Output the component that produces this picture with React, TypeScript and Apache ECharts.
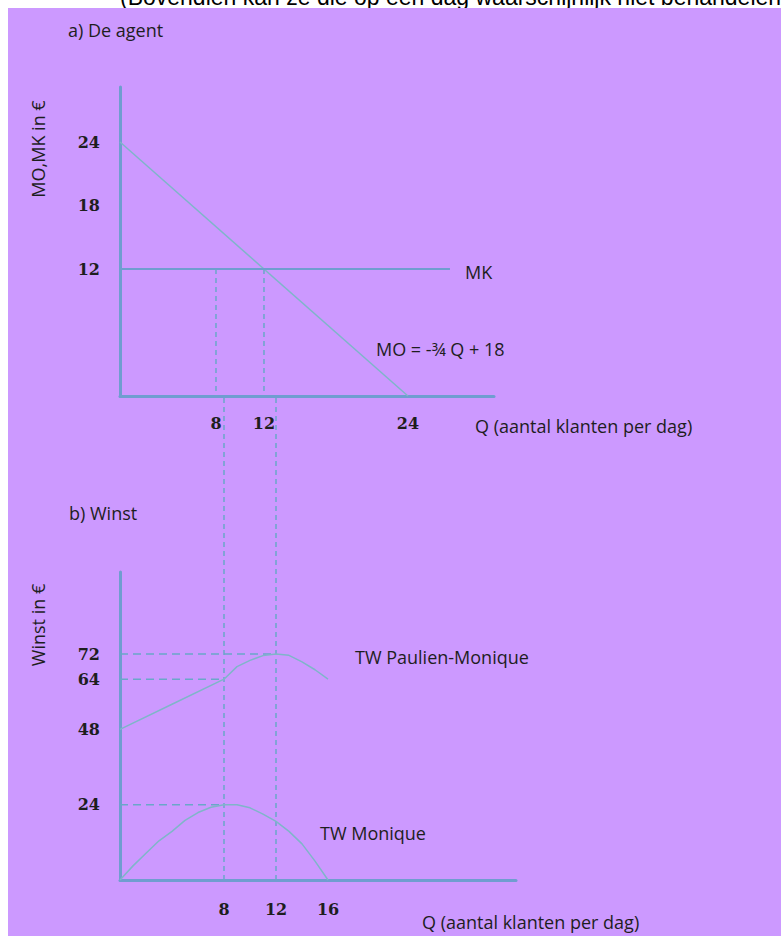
import { useEffect, useRef } from 'react';
import * as echarts from 'echarts';

// ---- tick labels ----
const upperXTicks = [8, 12, 24];
const upperYTicks = [12, 18, 24];
const lowerXTicks = [8, 12, 16];
const lowerYTicks = [24, 48, 64, 72];

// ---- a) De agent ----
const moCurve = [[0, 24], [24, 0]];
const mkCurve = [[0, 12], [27.5, 12]];
const mkLevel = 12;
const optimumQs = [8, 12];

// ---- b) Winst ----
const twPaulienMonique = [
  [0, 48], [4, 56], [8, 64], [9, 68], [10, 70], [11, 71.5], [12, 72],
  [13, 71.6], [14, 69.5], [15, 67], [16, 64],
];
const twMonique = [
  [0, 0], [1, 4.5], [2, 8.5], [3, 12.5], [4, 15.5], [5, 19], [6, 21.5], [7, 23.2],
  [8, 24], [9, 24], [10, 23], [11, 21], [12, 18.7], [13, 15.5], [14, 11.5], [15, 6], [16, 0],
];
// [winst level, Q where the guide ends]
const guideLevels = [[72, 12], [64, 8], [24, 8]];

const headerText = '(Bovendien kan ze die op een dag waarschijnlijk niet behandelen.';

// ---- layout / style ----
const PURPLE = '#CC99FF';
const AXIS = '#6f9dd0';
const CURVE = '#7fb5c9';
const DASH = '#6aa7c9';
const TXT = '#1e1e1e';
const SANS = '"Open Sans", Lato, sans-serif';
const SERIF = '"DejaVu Serif", "Liberation Serif", serif';

const U = { left: 120, top: 87, right: 494, bottom: 396 };
const L = { left: 120, top: 572, right: 516, bottom: 880 };
const U_XMAX = 31.17;
const U_YMAX = 29.2;
const L_XMAX = 30.46;
const L_YMAX = 98.15;
const GAP_TOP = (L_YMAX * (L.bottom - U.bottom)) / (L.bottom - L.top);

function tickFormatter(list: number[]) {
  return (v: number) => (list.indexOf(v) >= 0 ? String(v) : '');
}

function axisBase(ticks: number[], max: number, interval: number, margin: number) {
  return {
    type: 'value' as const,
    min: 0,
    max,
    interval,
    axisLine: { show: true, onZero: false, lineStyle: { color: AXIS, width: 3 } },
    axisTick: { show: false },
    splitLine: { show: false },
    axisLabel: {
      formatter: tickFormatter(ticks),
      margin,
      color: TXT,
      fontFamily: SERIF,
      fontWeight: 'bold' as const,
      fontSize: 16,
      showMaxLabel: false,
    },
  };
}

function line(data: number[][], xi: number, color: string, width: number, dash?: number[], clip = true) {
  return {
    type: 'line',
    xAxisIndex: xi,
    yAxisIndex: xi,
    data,
    symbol: 'none',
    silent: true,
    clip,
    lineStyle: { color, width, type: dash ? dash : 'solid' },
  };
}

function label(text: string, x: number, y: number, rotate = false) {
  return {
    type: 'text',
    x,
    y,
    rotation: rotate ? Math.PI / 2 : 0,
    z: 10,
    style: {
      text,
      fill: TXT,
      font: `18px ${SANS}`,
      align: rotate ? 'center' : 'left',
      verticalAlign: 'middle',
    },
  };
}

export default function App() {
  const ref = useRef<HTMLDivElement>(null);
  useEffect(() => {
    if (!ref.current) return;
    const chart = echarts.init(ref.current, undefined, { renderer: 'svg' });
    const series: any[] = [
      line(moCurve, 0, CURVE, 1.5),
      line(mkCurve, 0, AXIS, 2),
      ...optimumQs.map((q) => line([[q, mkLevel], [q, 0]], 0, DASH, 1.5, [5, 4])),
      ...optimumQs.map((q) => line([[q, 0], [q, GAP_TOP]], 1, DASH, 1.5, [5, 4], false)),
      ...guideLevels.map(([w, q]) => line([[0, w], [q, w]], 1, DASH, 1.5, [8, 5])),
      line(twPaulienMonique, 1, CURVE, 1.5),
      line(twMonique, 1, CURVE, 1.5),
    ];
    chart.setOption({
      animation: false,
      backgroundColor: '#ffffff',
      grid: [
        { left: U.left, top: U.top, width: U.right - U.left, height: U.bottom - U.top, containLabel: false },
        { left: L.left, top: L.top, width: L.right - L.left, height: L.bottom - L.top, containLabel: false },
      ],
      xAxis: [
        { ...axisBase(upperXTicks, U_XMAX, 4, 19), gridIndex: 0 },
        { ...axisBase(lowerXTicks, L_XMAX, 4, 21), gridIndex: 1 },
      ],
      yAxis: [
        { ...axisBase(upperYTicks, U_YMAX, 6, 20), gridIndex: 0 },
        { ...axisBase(lowerYTicks, L_YMAX, 8, 20), gridIndex: 1 },
      ],
      graphic: [
        {
          type: 'text',
          x: 120,
          y: -3,
          z: -20,
          style: { text: headerText, fill: '#000', font: '23px "Liberation Sans", Arial, sans-serif', verticalAlign: 'middle' },
        },
        { type: 'rect', z: -10, silent: true, shape: { x: 8, y: 8, width: 773, height: 928 }, style: { fill: PURPLE } },
        label('a) De agent', 68, 30),
        label('MO,MK in €', 38, 149, true),
        label('MK', 465, 272),
        label('MO = -¾ Q + 18', 376, 349),
        label('Q (aantal klanten per dag)', 475, 426),
        label('b) Winst', 69, 513),
        label('Winst in €', 38, 625, true),
        label('TW Paulien-Monique', 355, 657),
        label('TW Monique', 320, 833),
        label('Q (aantal klanten per dag)', 422, 922),
      ],
      series,
    });
    return () => chart.dispose();
  }, []);
  return (
    <div
      ref={ref}
      style={{ position: 'absolute', left: 0, top: 0, width: 781, height: 936 }}
    />
  );
}
